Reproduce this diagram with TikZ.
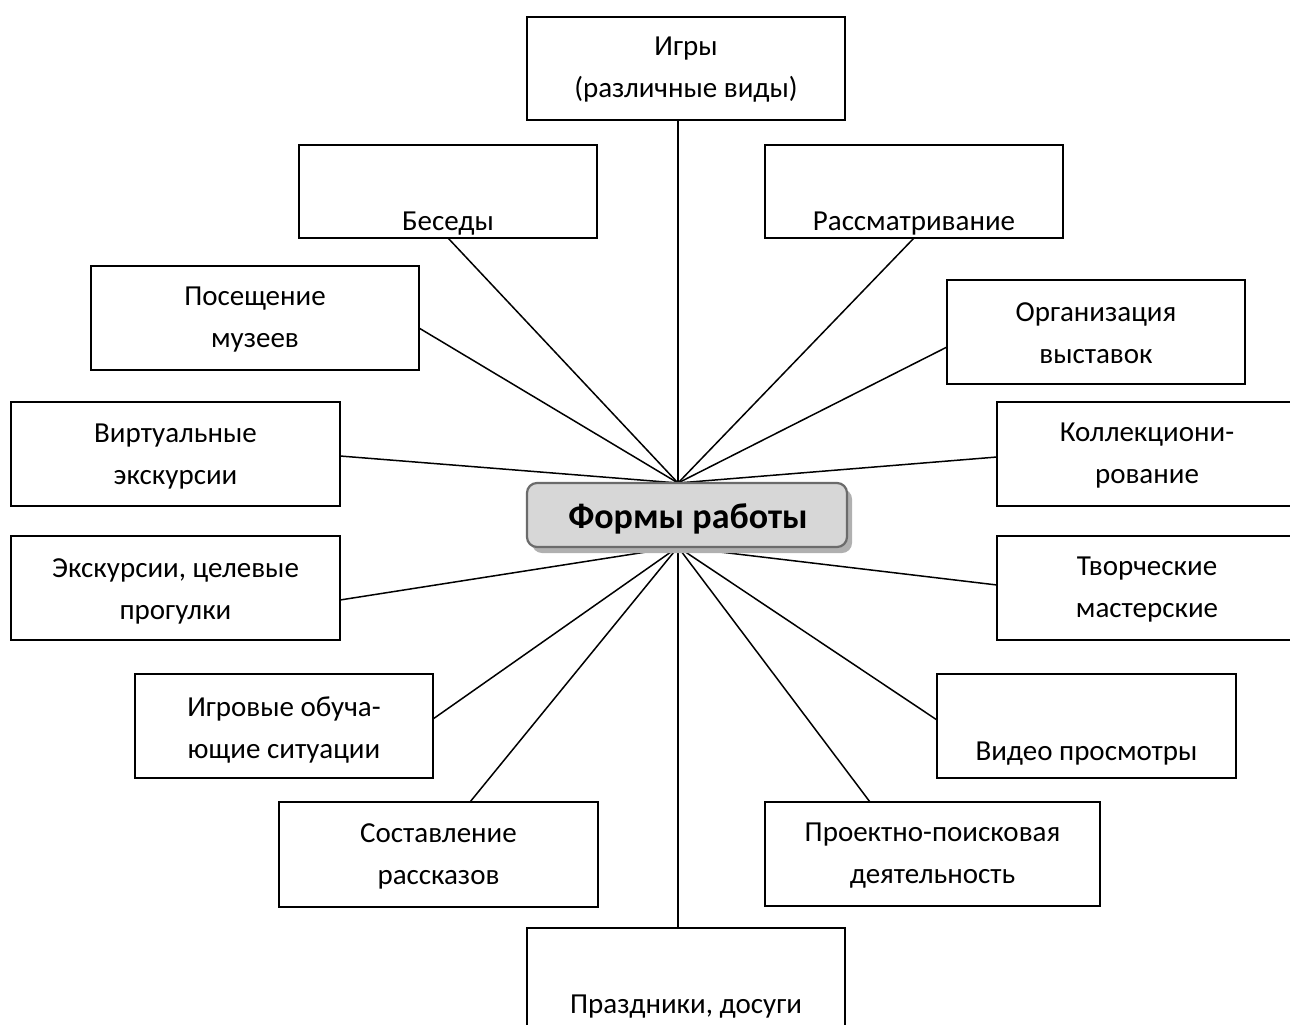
\documentclass[tikz,border=0pt]{standalone}
\usepackage{fontspec}
\setmainfont{Carlito}
\usetikzlibrary{shadows}
\definecolor{hubfill}{HTML}{D7D7D7}
\definecolor{hubdraw}{HTML}{6B6B6B}
\definecolor{hubshadow}{HTML}{B0B0B0}
\begin{document}
\begin{tikzpicture}[x=1pt,y=-1pt,
  box/.style={draw=black, line width=1.8pt, inner sep=0pt, outer sep=0pt, fill=white},
  txt/.style={align=center, inner sep=0pt, font=\fontsize{29}{42}\selectfont},
  link/.style={draw=black, line width=1.5pt},
  hub/.style={draw=hubdraw, fill=hubfill, line width=2.2pt, rounded corners=10pt,
    inner sep=0pt, outer sep=0pt, minimum width=320pt, minimum height=64pt,
    copy shadow={shadow xshift=5pt, shadow yshift=-6pt, draw=none, fill=hubshadow}},
  hubtxt/.style={inner sep=0pt, font=\fontsize{36}{40}\selectfont\bfseries}
]
\fill[white] (0,0) rectangle (1290,1025);
\useasboundingbox (0,0) rectangle (1290,1025);

% boxes
\node[box, minimum width=318pt, minimum height=103pt] (igry) at (686,68.5) {};
\node[box, minimum width=298pt, minimum height=93pt] (besedy) at (448,191.5) {};
\node[box, minimum width=298pt, minimum height=93pt] (rassm) at (914,191.5) {};
\node[box, minimum width=328pt, minimum height=104pt] (poseshch) at (255,318) {};
\node[box, minimum width=298pt, minimum height=104pt] (org) at (1096,332) {};
\node[box, minimum width=329pt, minimum height=104pt] (virt) at (175.5,454) {};
\node[box, minimum width=303pt, minimum height=104pt] (koll) at (1148.5,454) {};
\node[box, minimum width=329pt, minimum height=104pt] (eksk) at (175.5,588) {};
\node[box, minimum width=303pt, minimum height=104pt] (tvor) at (1148.5,588) {};
\node[box, minimum width=298pt, minimum height=104pt] (igrov) at (284,726) {};
\node[box, minimum width=299pt, minimum height=104pt] (video) at (1086.5,726) {};
\node[box, minimum width=319pt, minimum height=105pt] (sost) at (438.5,854.5) {};
\node[box, minimum width=335pt, minimum height=104pt] (proekt) at (932.5,854) {};
\node[box, minimum width=318pt, minimum height=112pt] (prazd) at (686,984) {};

% texts
\node[txt] (igry-t) at (686,70) {Игры\\(различные виды)};
\node[txt] (besedy-t) at (448,224) {Беседы};
\node[txt] (rassm-t) at (914,224) {Рассматривание};
\node[txt] (poseshch-t) at (255,320) {Посещение\\музеев};
\node[txt] (org-t) at (1096,333.5) {Организация\\выставок};
\node[txt] (virt-t) at (175.5,457) {Виртуальные\\экскурсии};
\node[txt] (koll-t) at (1147,456) {Коллекциони-\\рование};
\node[txt] (eksk-t) at (175.5,591) {Экскурсии, целевые\\прогулки};
\node[txt] (tvor-t) at (1147,590) {Творческие\\мастерские};
\node[txt] (igrov-t) at (284,730) {Игровые обуча-\\ющие ситуации};
\node[txt] (video-t) at (1086.5,754) {Видео просмотры};
\node[txt] (sost-t) at (438.5,856) {Составление\\рассказов};
\node[txt] (proekt-t) at (932.5,856) {Проектно-поисковая\\деятельность};
\node[txt] (prazd-t) at (686,1007) {Праздники, досуги};

% hub points
\coordinate (hubT) at (678,483);
\coordinate (hubB) at (678,547);

% connectors
\draw[link] (igry.south -| hubT) -- (hubT);
\draw[link] (besedy.south) -- (hubT);
\draw[link] (rassm.south) -- (hubT);
\draw[link] ([yshift=-10pt]poseshch.east) -- (hubT);
\draw[link] ([yshift=-15pt]org.west) -- (hubT);
\draw[link] ([yshift=-2pt]virt.east) -- (hubT);
\draw[link] ([yshift=-3pt]koll.west) -- (hubT);
\draw[link] ([yshift=-12pt]eksk.east) -- (hubB);
\draw[link] ([yshift=3pt]tvor.west) -- (hubB);
\draw[link] ([yshift=7pt]igrov.east) -- (hubB);
\draw[link] ([yshift=6pt]video.west) -- (hubB);
\draw[link] ([xshift=31.5pt]sost.north) -- (hubB);
\draw[link] ([xshift=-62.5pt]proekt.north) -- (hubB);
\draw[link] (prazd.north -| hubB) -- (hubB);

% central node
\node[hub] (center) at (687,515) {};
\node[hubtxt] (center-t) at (688,519) {Формы работы};
\end{tikzpicture}
\end{document}
